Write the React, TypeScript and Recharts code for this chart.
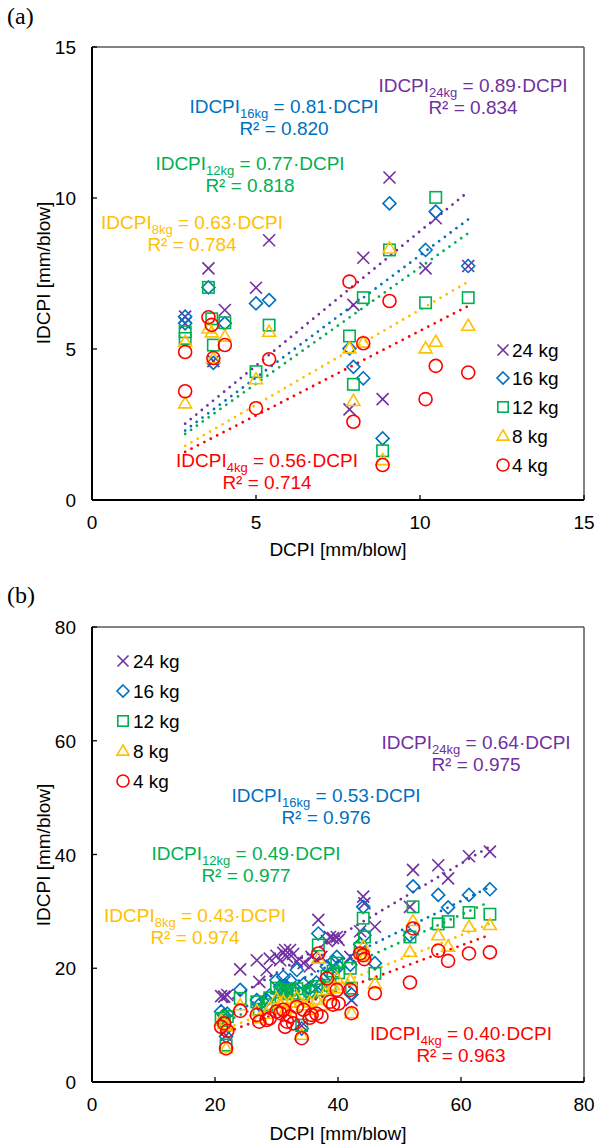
import React from 'react';
import { ScatterChart, Scatter, XAxis, YAxis, ReferenceLine } from 'recharts';

const FONT = '"Liberation Sans", Arial, Helvetica, sans-serif';
const SERIF = '"Liberation Serif", "Times New Roman", serif';

// ---------- series meta ----------
const seriesLabels = ['24 kg', '16 kg', '12 kg', '8 kg', '4 kg'];
const seriesSubs = ['24kg', '16kg', '12kg', '8kg', '4kg'];
const seriesColors = ['#7030A0', '#0070C0', '#00B050', '#FFC000', '#FF0000'];
const seriesShapes = ['x', 'diamond', 'square', 'triangle', 'circle'];

// ---------- panel (a) ----------
const aTicks = [0, 5, 10, 15];
const aDcpi = [2.84, 2.84, 3.55, 3.65, 3.7, 4.05, 5.0, 5.4, 7.85, 7.97, 8.27, 8.86, 9.07, 10.17, 10.48, 11.47];
const aIdcpi24 = [6.07, 5.85, 7.67, null, 4.6, 6.29, 7.03, 8.6, 3.0, 6.46, 8.02, 3.34, 10.68, 7.67, 9.33, 7.75];
const aIdcpi16 = [6.07, 5.85, 7.04, null, 4.54, 5.85, 6.51, 6.62, 5.02, 4.41, 4.03, 2.04, 9.82, 8.28, 9.55, 7.75];
const aIdcpi12 = [5.57, 5.35, 7.04, 6.0, 5.13, 5.87, 4.25, 5.79, 5.43, 3.83, 6.7, 1.63, 8.28, 6.53, 10.02, 6.7];
const aIdcpi8 = [5.24, 3.2, 5.68, 5.55, 4.69, 5.41, 4.0, 5.57, 5.02, 3.28, 5.21, 1.32, 8.33, 5.02, 5.24, 5.77];
const aIdcpi4 = [4.9, 3.6, 6.05, 5.8, 4.7, 5.13, 3.04, 4.66, 7.23, 2.59, 5.19, 1.16, 6.59, 3.34, 4.44, 4.22];
const aSlopes = [0.89, 0.81, 0.77, 0.63, 0.56];
const aR2 = ['0.834', '0.820', '0.818', '0.784', '0.714'];

// ---------- panel (b) ----------
const bTicks = [0, 20, 40, 60, 80];
const bDcpi = [21.0, 21.5, 21.8, 22.0, 24.1, 26.8, 27.2, 28.4, 28.9, 30.0, 30.6, 31.1, 31.4, 31.7, 32.2, 32.7, 33.3, 34.1, 34.4, 35.4, 35.7, 36.5, 36.8, 37.3, 38.2, 38.7, 39.2, 39.8, 40.1, 42.0, 42.2, 43.6, 44.1, 44.3, 46.0, 51.7, 52.2, 56.3, 57.9, 61.3, 64.7];
const bIdcpi24 = [15.1, 15.0, 8.2, 15.3, 19.8, 21.4, 17.6, 19.7, 21.7, 22.2, 21.4, 22.7, 23.2, 22.0, 23.2, 22.5, 21.2, 9.9, 20.9, 20.3, 22.0, 21.5, 28.5, 22.0, 24.8, 25.5, 25.3, 25.5, 25.0, 22.0, 14.4, 26.5, 32.6, 31.4, 27.3, 30.8, 37.3, 38.1, 35.8, 39.7, 40.5];
const bIdcpi16 = [12.4, 11.8, 8.0, 12.0, 16.2, 14.4, 13.6, 14.4, 15.2, 17.9, 16.8, 18.5, 17.0, 16.5, 17.9, 16.0, 19.7, 9.4, 17.2, 16.5, 16.0, 17.5, 26.1, 17.2, 20.3, 19.0, 21.2, 22.0, 20.3, 20.6, 15.4, 24.2, 30.8, 25.8, 20.9, 25.8, 34.4, 32.9, 30.7, 32.9, 33.9];
const bIdcpi12 = [11.2, 10.8, 6.5, 11.5, 14.7, 14.1, 12.8, 13.6, 14.8, 16.5, 15.8, 16.2, 15.5, 16.0, 16.2, 15.6, 16.4, 10.0, 15.5, 16.0, 15.8, 16.8, 24.1, 16.2, 18.6, 17.0, 19.5, 20.9, 19.2, 20.0, 16.5, 23.5, 28.8, 25.5, 19.1, 25.5, 30.8, 27.8, 28.2, 29.8, 29.5];
const bIdcpi8 = [10.8, 10.2, 5.9, 9.8, 13.5, 12.5, 11.2, 12.0, 13.0, 14.6, 13.8, 14.2, 12.6, 13.0, 14.0, 13.2, 14.8, 8.3, 13.5, 14.0, 12.7, 14.5, 21.7, 13.5, 16.2, 15.2, 17.0, 18.2, 16.5, 17.9, 12.1, 22.4, 23.8, 22.0, 17.3, 22.9, 28.3, 25.8, 23.8, 27.3, 27.6];
const bIdcpi4 = [9.7, 10.3, 5.9, 9.0, 12.5, 11.8, 10.6, 10.9, 11.2, 12.4, 12.1, 12.7, 9.7, 10.6, 11.5, 10.3, 13.2, 7.7, 12.7, 11.3, 11.8, 12.0, 22.6, 11.5, 18.2, 14.1, 13.6, 16.2, 13.8, 16.2, 12.1, 22.6, 22.3, 21.6, 15.6, 17.5, 27.0, 23.1, 21.3, 22.6, 22.8];
const bSlopes = [0.64, 0.53, 0.49, 0.43, 0.40];
const bR2 = ['0.975', '0.976', '0.977', '0.974', '0.963'];

// ---------- markers ----------
function Marker({ kind, cx, cy, color, s = 6 }: any) {
  if (cx == null || cy == null) return null;
  const sw = 1.6;
  switch (kind) {
    case 'x':
      return (
        <g stroke={color} strokeWidth={sw}>
          <line x1={cx - s} y1={cy - s} x2={cx + s} y2={cy + s} />
          <line x1={cx - s} y1={cy + s} x2={cx + s} y2={cy - s} />
        </g>
      );
    case 'diamond':
      return <polygon points={`${cx},${cy - s - 0.5} ${cx + s + 0.5},${cy} ${cx},${cy + s + 0.5} ${cx - s - 0.5},${cy}`} fill="none" stroke={color} strokeWidth={sw} />;
    case 'square':
      return <rect x={cx - s + 0.3} y={cy - s + 0.3} width={2 * s - 0.6} height={2 * s - 0.6} fill="none" stroke={color} strokeWidth={sw} />;
    case 'triangle':
      return <polygon points={`${cx},${cy - s - 0.5} ${cx + s + 0.5},${cy + s * 0.75} ${cx - s - 0.5},${cy + s * 0.75}`} fill="none" stroke={color} strokeWidth={sw} />;
    default:
      return <circle cx={cx} cy={cy} r={s + 0.5} fill="none" stroke={color} strokeWidth={sw} />;
  }
}

const XTick = (props: any) => {
  const { x, y, payload } = props;
  return (
    <g>
      <line x1={x} y1={y} x2={x} y2={y - 5} stroke="#000" strokeWidth={1.3} />
      <text x={x} y={y + 29} textAnchor="middle" fontSize={19} fontFamily={FONT} fill="#000">{payload.value}</text>
    </g>
  );
};

const YTick = (props: any) => {
  const { x, y, payload } = props;
  return (
    <g>
      <line x1={x} y1={y} x2={x + 5} y2={y} stroke="#000" strokeWidth={1.3} />
      <text x={x - 16} y={y + 7} textAnchor="end" fontSize={19} fontFamily={FONT} fill="#000">{payload.value}</text>
    </g>
  );
};

function Panel({ top, height, plotTop, xAxisH, dcpi, ys, slopes, ticks }: any) {
  const max = ticks[ticks.length - 1];
  const data = ys.map((arr: any[]) =>
    dcpi.map((x: number, i: number) => ({ x, y: arr[i] })).filter((d: any) => d.y != null)
  );
  const xMin = Math.min(...dcpi);
  const xMax = Math.max(...dcpi);
  return (
    <div style={{ position: 'absolute', left: 0, top, width: 595, height }}>
      <ScatterChart width={595} height={height} margin={{ top: plotTop, right: 11, bottom: 0, left: 0 }}>
        <XAxis type="number" dataKey="x" domain={[0, max]} ticks={ticks} interval={0} height={xAxisH}
          tickSize={0} tickMargin={0} tickLine={false} axisLine={{ stroke: '#000', strokeWidth: 2 }} tick={XTick} allowDataOverflow />
        <YAxis type="number" dataKey="y" domain={[0, max]} ticks={ticks} interval={0} width={92}
          tickSize={0} tickMargin={0} tickLine={false} axisLine={{ stroke: '#000', strokeWidth: 2 }} tick={YTick} allowDataOverflow />
        <ReferenceLine y={max} stroke="#595959" strokeWidth={1.5} ifOverflow="visible" />
        <ReferenceLine x={max} stroke="#595959" strokeWidth={1.5} ifOverflow="visible" />
        {data.map((d: any, i: number) => (
          <Scatter key={i} name={seriesLabels[i]} data={d} isAnimationActive={false}
            shape={(p: any) => <Marker kind={seriesShapes[i]} cx={p.cx} cy={p.cy} color={seriesColors[i]} />} />
        ))}
        {slopes.map((k: number, i: number) => (
          <ReferenceLine key={'t' + i} segment={[{ x: xMin, y: k * xMin }, { x: xMax, y: k * xMax }]}
            stroke={seriesColors[i]} strokeWidth={2.8} strokeDasharray="0 7.2" strokeLinecap="round" ifOverflow="visible" />
        ))}
      </ScatterChart>
    </div>
  );
}

function Annot({ cx, cy, color, sub, slope, r2 }: any) {
  return (
    <g fill={color} fontFamily={FONT} fontSize={19} style={{ whiteSpace: 'pre' }}>
      <text x={cx} y={cy + 7} textAnchor="middle">
        IDCPI<tspan fontSize={13} dy={5}>{sub}</tspan><tspan dy={-5}>{' = ' + slope.toFixed(2) + '·DCPI'}</tspan>
      </text>
      <text x={cx} y={cy + 29} textAnchor="middle">{'R² = ' + r2}</text>
    </g>
  );
}

function LegendBlock({ symX, textX, rows }: any) {
  return (
    <g>
      {seriesLabels.map((lab, i) => (
        <g key={i}>
          <Marker kind={seriesShapes[i]} cx={symX} cy={rows[i]} color={seriesColors[i]} s={5.5} />
          <text x={textX} y={rows[i] + 7} fontFamily={FONT} fontSize={19} fill="#000">{lab}</text>
        </g>
      ))}
    </g>
  );
}

// layout of the text boxes (pixel positions of the label centres)
const aAnnotPos = [[473, 85], [284, 106], [250, 163], [192, 222], [267, 460]];
const bAnnotPos = [[476, 742], [326, 795], [246, 853], [195, 915], [461, 1033]];

export default function App() {
  return (
    <div style={{ position: 'absolute', left: 0, top: 0, width: 595, height: 1147, background: '#fff' }}>
      <Panel top={0} height={560} plotTop={47} xAxisH={60} dcpi={aDcpi}
        ys={[aIdcpi24, aIdcpi16, aIdcpi12, aIdcpi8, aIdcpi4]} slopes={aSlopes} ticks={aTicks} />
      <Panel top={570} height={577} plotTop={57} xAxisH={65} dcpi={bDcpi}
        ys={[bIdcpi24, bIdcpi16, bIdcpi12, bIdcpi8, bIdcpi4]} slopes={bSlopes} ticks={bTicks} />
      <svg width={595} height={1147} style={{ position: 'absolute', left: 0, top: 0, pointerEvents: 'none' }}>
        <text x={7} y={24} fontFamily={SERIF} fontSize={24} fill="#000">(a)</text>
        <text x={7} y={603} fontFamily={SERIF} fontSize={24} fill="#000">(b)</text>

        <text x={338} y={556} textAnchor="middle" fontFamily={FONT} fontSize={19} fill="#000">DCPI [mm/blow]</text>
        <text x={338} y={1140} textAnchor="middle" fontFamily={FONT} fontSize={19} fill="#000">DCPI [mm/blow]</text>
        <text x={50} y={273} textAnchor="middle" transform="rotate(-90 50 273)" fontFamily={FONT} fontSize={19} fill="#000">IDCPI [mm/blow]</text>
        <text x={50} y={855} textAnchor="middle" transform="rotate(-90 50 855)" fontFamily={FONT} fontSize={19} fill="#000">IDCPI [mm/blow]</text>

        {aSlopes.map((k, i) => (
          <Annot key={'a' + i} cx={aAnnotPos[i][0]} cy={aAnnotPos[i][1]} color={seriesColors[i]} sub={seriesSubs[i]} slope={k} r2={aR2[i]} />
        ))}
        {bSlopes.map((k, i) => (
          <Annot key={'b' + i} cx={bAnnotPos[i][0]} cy={bAnnotPos[i][1]} color={seriesColors[i]} sub={seriesSubs[i]} slope={k} r2={bR2[i]} />
        ))}

        <LegendBlock symX={503} textX={512} rows={[350, 378, 407, 436, 465]} />
        <LegendBlock symX={123} textX={133} rows={[661, 691, 721, 751, 781]} />
      </svg>
    </div>
  );
}
